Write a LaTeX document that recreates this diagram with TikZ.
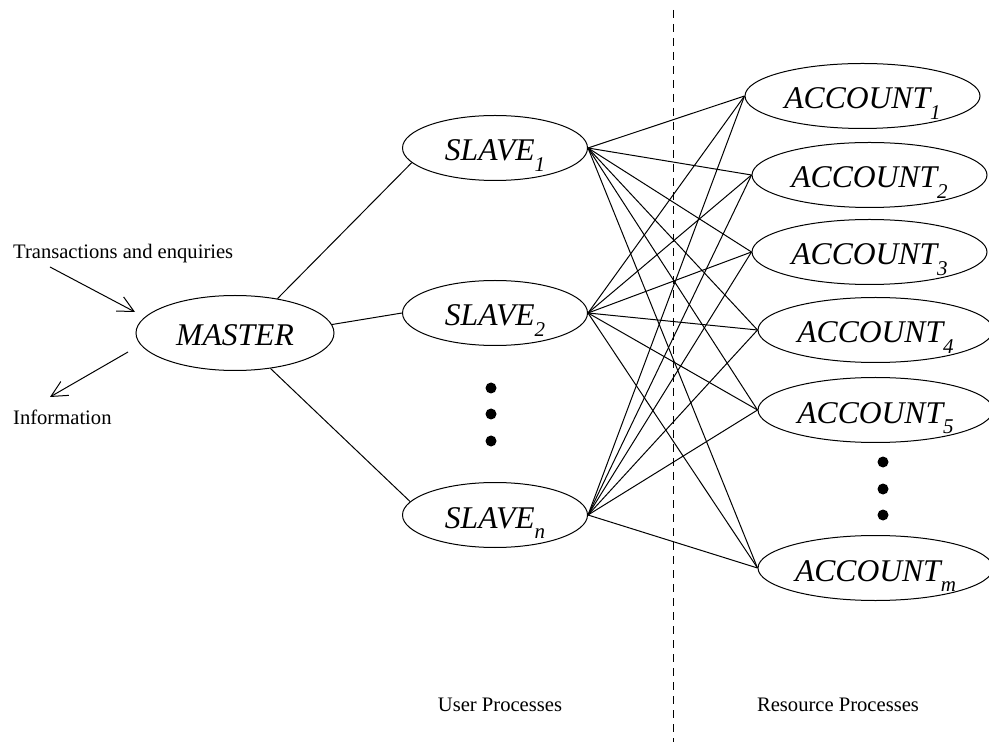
\documentclass[tikz,border=0pt]{standalone}
\usepackage{xcolor}
\usepackage{fontspec}
\setmainfont{Liberation Serif}
\usepackage{tikz}
\usetikzlibrary{positioning,arrows.meta,shapes.geometric}

\newcommand{\lowsub}[1]{\smash{\raisebox{-0.7ex}{\fontsize{10.5}{11}\selectfont #1}}}

\begin{document}
\begin{tikzpicture}[x=0.5pt,y=-0.5pt,line width=0.5pt,
    proc/.style={ellipse,draw,inner sep=0pt,minimum height=32.5pt,
      text height=13pt,text depth=0pt,
      font=\fontsize{15.8}{16}\selectfont\itshape},
    slave/.style={proc,minimum width=92.5pt},
    account/.style={proc,minimum width=117.5pt},
    plain/.style={font=\fontsize{10.3}{12}\selectfont},
    flow/.style={-{Straight Barb[length=8pt,width=8pt]}}]
    \useasboundingbox (0,0) rectangle (989,742);
    \node[proc,minimum width=99pt,minimum height=37.5pt] (master) at (235,333) {MASTER} ;
    \node[slave] (s1) at (495,148) {SLAVE\lowsub{1}} ;
    \node[slave] (s2) at (495,313) {SLAVE\lowsub{2}} ;
    \node[slave] (sn) at (495,515) {SLAVE\lowsub{n}} ;
    \node[account] (a1) at (862.5,96) {ACCOUNT\lowsub{1}} ;
    \node[account] (a2) at (869.5,175) {ACCOUNT\lowsub{2}} ;
    \node[account] (a3) at (869.5,252) {ACCOUNT\lowsub{3}} ;
    \node[account] (a4) at (875.5,330) {ACCOUNT\lowsub{4}} ;
    \node[account] (a5) at (875.5,410) {ACCOUNT\lowsub{5}} ;
    \node[account] (am) at (875.5,568) {ACCOUNT\lowsub{m}} ;
    \node[plain,anchor=west] (trans) at (6,254) {Transactions and enquiries} ;
    \node[plain,anchor=west] (info) at (6,417) {Information} ;
    \node[plain] (user) at (500,705) {User Processes} ;
    \node[plain] (res) at (838,705) {Resource Processes} ;
    \coordinate (trfrom) at (50,267) ;
    \coordinate (trto) at (135,312) ;
    \coordinate (infrom) at (128,352) ;
    \coordinate (into) at (50,397) ;
    \coordinate (divtop) at (673,10) ;
    \coordinate (divbot) at (673,742) ;
    \draw[flow] (trfrom) -- (trto) ;
    \draw[flow] (infrom) -- (into) ;
    \draw[dash pattern=on 4pt off 3pt] (divtop) -- (divbot) ;
    \draw (master.39) -- (s1.190) ;
    \draw (master.5) -- (s2.west) ;
    \draw (master.315) -- (sn.171) ;
    \foreach \s in {s1,s2,sn}
      \foreach \a in {a1,a2,a3,a4,a5,am}
        \draw (\s.east) -- (\a.west) ;
    \foreach \y in {388,414,441}
      \fill (491,\y) circle (2.75pt) ;
    \foreach \y in {462,489,515}
      \fill (883,\y) circle (2.75pt) ;
  \end{tikzpicture}
\end{document}
